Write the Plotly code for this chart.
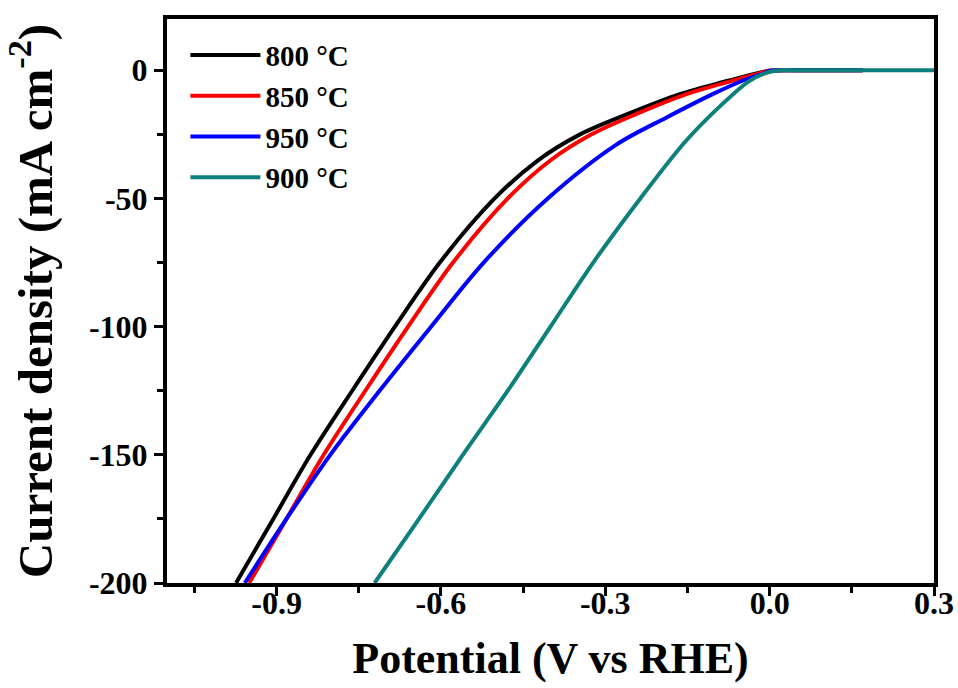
import plotly.graph_objects as go

# ---- data ----
x_800 = [-0.974, -0.906, -0.838, -0.762, -0.684, -0.602, -0.502, -0.424, -0.346, -0.261, -0.165, -0.080, -0.020, 0.0, 0.03, 0.07, 0.12, 0.17]
y_800 = [-200, -175, -150, -125, -100, -75, -50, -35.3, -25.0, -17.2, -9.4, -4.3, -1.0, -0.2, 0, 0, 0, 0]

x_850 = [-0.950, -0.882, -0.814, -0.738, -0.660, -0.578, -0.478, -0.401, -0.325, -0.245, -0.153, -0.072, -0.016, 0.0, 0.03, 0.07, 0.12, 0.17]
y_850 = [-200, -175, -150, -125, -100, -75, -50, -35.3, -25.0, -17.2, -9.4, -4.3, -1.0, -0.2, 0, 0, 0, 0]

x_950 = [-0.958, -0.882, -0.802, -0.712, -0.618, -0.522, -0.405, -0.279, -0.189, -0.105, -0.044, -0.008, 0.0, 0.03, 0.07, 0.12, 0.17]
y_950 = [-200, -175, -150, -125, -100, -75, -50, -28.9, -18.5, -9.4, -3.6, -1.0, -0.2, 0, 0, 0, 0]

x_900 = [-0.721, -0.640, -0.560, -0.478, -0.400, -0.322, -0.236, -0.153, -0.087, -0.038, -0.006, 0.02, 0.05, 0.10, 0.20, 0.30]
y_900 = [-200, -175, -150, -125, -100, -75, -50, -27.6, -13.3, -4.3, -1.0, 0, 0, 0, 0, 0]

series_names = ["800 \u00b0C", "850 \u00b0C", "950 \u00b0C", "900 \u00b0C"]
series_colors = ["#000000", "#FF0000", "#0000FF", "#0E807C"]

x_tickvals = [-0.9, -0.6, -0.3, 0.0, 0.3]
x_ticktext = ["-0.9", "-0.6", "-0.3", "0.0", "0.3"]
y_tickvals = [0, -50, -100, -150, -200]
y_ticktext = ["0", "-50", "-100", "-150", "-200"]

FONT = "Liberation Serif, Times New Roman, serif"

fig = go.Figure()
for xs, ys, name, col in zip([x_800, x_850, x_950, x_900],
                             [y_800, y_850, y_950, y_900],
                             series_names, series_colors):
    fig.add_trace(go.Scatter(x=xs, y=ys, mode="lines", name=name,
                             line=dict(color=col, width=4, shape="spline", smoothing=0.9)))

axis_common = dict(
    showline=True, linecolor="black", linewidth=4, mirror=True,
    showgrid=False, zeroline=False, automargin=False,
    ticks="outside", ticklen=9, tickwidth=3, tickcolor="black",
    tickfont=dict(family=FONT, size=32, color="black", weight="bold"),
)

fig.update_xaxes(
    range=[-1.1, 0.3], tickmode="array", tickvals=x_tickvals, ticktext=x_ticktext,
    minor=dict(ticks="outside", ticklen=6, tickwidth=3, tickcolor="black", dtick=0.15, tick0=0.15, showgrid=False),
    title=dict(text="Potential (V vs RHE)", font=dict(family=FONT, size=44, color="black", weight="bold"), standoff=23),
    ticklabelstandoff=-20,
    **axis_common,
)
fig.update_yaxes(
    range=[-200, 20], tickmode="array", tickvals=y_tickvals, ticktext=y_ticktext,
    minor=dict(ticks="outside", ticklen=6, tickwidth=3, tickcolor="black", dtick=25, tick0=25, showgrid=False),
    title=dict(text="Current density (mA cm<sup>-2</sup>)", font=dict(family=FONT, size=49, color="black", weight="bold"), standoff=57),
    **axis_common,
)

fig.update_layout(
    width=958, height=688,
    margin=dict(l=167, r=24, t=19, b=105),
    paper_bgcolor="white", plot_bgcolor="white",
    showlegend=True,
    legend=dict(x=0.024, y=0.981, xanchor="left", yanchor="top",
                bgcolor="rgba(0,0,0,0)", borderwidth=0,
                font=dict(family=FONT, size=29, color="black", weight="bold"),
                itemwidth=70, tracegroupgap=0),
)

# remove the browser's default 8 px page margin so the figure fills the window exactly
fig.write_html("out.html", config={"displayModeBar": False},
               post_script="document.body.style.margin='0';")
